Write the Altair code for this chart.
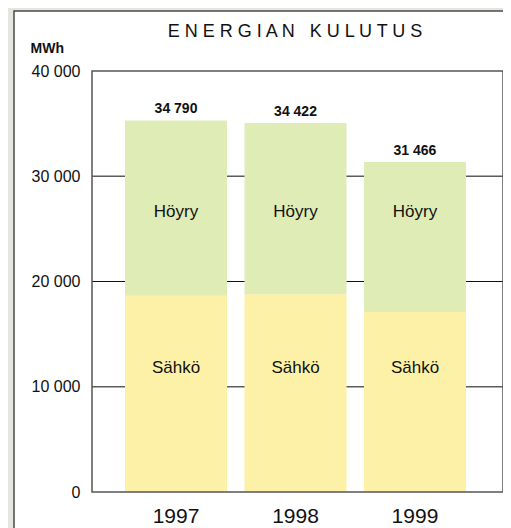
import altair as alt
import pandas as pd

years = ["1997", "1998", "1999"]
series = ["Sähkö", "Höyry"]
sahko = [18650, 18800, 17100]
hoyry = [16650, 16250, 14250]
total_labels = ["34 790", "34 422", "31 466"]
y_ticks = [0, 10000, 20000, 30000, 40000]
grid_grey = [10000, 30000]
grid_dark = [20000]
colors = ["#fcf1a6", "#dfecb5"]
seg_label_pos = {"Höyry": 26600, "Sähkö": 11800}
title_text = "E N E R G I A N\u00a0\u00a0\u00a0K U L U T U S"

W, H = 411, 421
FONT = "Liberation Sans"

rows = []
for i, yr in enumerate(years):
    rows.append({"year": yr, "series": "Sähkö", "value": sahko[i], "ord": 0})
    rows.append({"year": yr, "series": "Höyry", "value": hoyry[i], "ord": 1})
bars_df = pd.DataFrame(rows)

tot_df = pd.DataFrame({
    "year": years,
    "value": [s + h for s, h in zip(sahko, hoyry)],
    "label": total_labels,
})
seg_df = pd.DataFrame([
    {"year": yr, "series": s, "value": seg_label_pos[s]} for yr in years for s in series
])

y_scale = alt.Scale(domain=[0, 40000], nice=False)
y_axis = alt.Axis(
    values=y_ticks,
    labelExpr="replace(format(datum.value, ','), regexp(',', 'g'), ' ')",
    grid=False, ticks=False, domain=False,
    labelFontSize=16, labelPadding=12, labelColor="#111",
    title="MWh", titleAngle=0, titleX=-62, titleY=-19,
    titleAlign="left", titleBaseline="alphabetic",
    titleFontWeight="bold", titleFontSize=14, titleColor="#111",
    zindex=1,
)
x_scale = alt.Scale(domain=years, range=[33, 374], paddingInner=0.146, paddingOuter=0)
x_axis = alt.Axis(labelFontSize=21, labelAngle=0, ticks=False, domain=False,
                  labelPadding=13, labelColor="#111", title=None, zindex=1)

X = alt.X("year:N", scale=x_scale, axis=x_axis)

one = pd.DataFrame({"k": [0]})
panel = alt.Chart(one).mark_rect(fill="white", stroke="#4a4a4a", strokeWidth=1.5).encode(
    x=alt.value(-78), x2=alt.value(415), y=alt.value(-60), y2=alt.value(H + 80)
)

title = alt.Chart(one).mark_text(
    text=title_text, fontSize=18, color="#111", align="center", baseline="alphabetic"
).encode(x=alt.value(203), y=alt.value(-34))

grid1 = alt.Chart(pd.DataFrame({"value": grid_grey})).mark_rule(
    color="#5c5c5c", strokeWidth=1.6
).encode(y=alt.Y("value:Q", scale=y_scale, axis=y_axis))

grid2 = alt.Chart(pd.DataFrame({"value": grid_dark})).mark_rule(
    color="#111", strokeWidth=1.2
).encode(y=alt.Y("value:Q", scale=y_scale, axis=y_axis))

bars = alt.Chart(bars_df).mark_bar().encode(
    x=X,
    y=alt.Y("value:Q", stack="zero", scale=y_scale, axis=y_axis),
    color=alt.Color("series:N", scale=alt.Scale(domain=series, range=colors), legend=None),
    order=alt.Order("ord:Q"),
)

seg_text = alt.Chart(seg_df).mark_text(fontSize=17, color="#111", baseline="middle").encode(
    x=X,
    y=alt.Y("value:Q", scale=y_scale, axis=y_axis),
    text="series:N",
)

tot_text = alt.Chart(tot_df).mark_text(fontSize=14, fontWeight="bold", color="#111",
                                       baseline="alphabetic", dy=-7).encode(
    x=X,
    y=alt.Y("value:Q", scale=y_scale, axis=y_axis),
    text="label:N",
)

border = alt.Chart(one).mark_rect(filled=False, stroke="#555", strokeWidth=1.5).encode(
    x=alt.value(0), x2=alt.value(W), y=alt.value(0), y2=alt.value(H)
)

chart = alt.layer(panel, title, grid1, grid2, bars, seg_text, tot_text, border).properties(
    width=W, height=H,
    padding={"left": 84, "top": 63, "right": 0, "bottom": 37},
    autosize=alt.AutoSizeParams(type="none"),
    background="#e5e6df",
).configure(font=FONT).configure_view(strokeOpacity=0)

chart.save("out.html", embed_options={"renderer": "svg", "actions": False})
